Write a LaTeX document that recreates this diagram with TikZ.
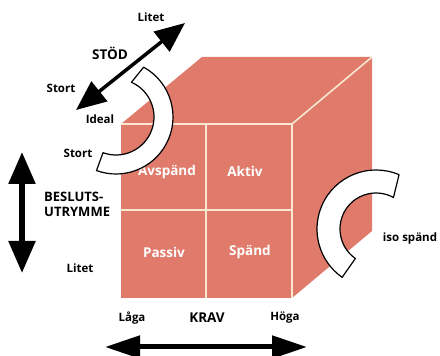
\documentclass[tikz,border=0pt]{standalone}
\usepackage{fontspec}
\setmainfont{Open Sans}
\usetikzlibrary{arrows.meta}
\definecolor{cubefill}{RGB}{224,123,108}
\definecolor{cubeline}{RGB}{248,232,208}
\tikzset{
  lbl/.style={font=\bfseries\fontsize{11.5}{12}\selectfont, text=black, inner sep=0pt},
  biglbl/.style={font=\bfseries\fontsize{13.5}{14}\selectfont, text=black, inner sep=0pt},
  cell/.style={font=\bfseries\fontsize{13.5}{14}\selectfont, text=white, inner sep=0pt},
  face/.style={fill=cubefill, draw=none},
  edge/.style={draw=cubeline, line width=1.6pt},
  band/.style={fill=white, draw=black, line width=1.2pt, line join=round},
  dblarrow/.style={draw=black, line width=#1},
}
\begin{document}
\begin{tikzpicture}[x=1pt,y=1pt]
\useasboundingbox (0,0) rectangle (440,356);

% cube corners
\coordinate (ftl) at (121,232);
\coordinate (ftr) at (292,232);
\coordinate (fbr) at (292,58);
\coordinate (fbl) at (121,58);
\coordinate (btl) at (202,299);
\coordinate (btr) at (372,299);
\coordinate (bbr) at (372,125);

% faces
\path[face] (ftl) -- (btl) -- (btr) -- (ftr) -- cycle;
\path[face] (ftr) -- (btr) -- (bbr) -- (fbr) -- cycle;
\path[face] (fbl) rectangle (ftr);

% edges and grid of the front face
\draw[edge] (ftl) -- (ftr) -- (fbr);
\draw[edge] (ftr) -- (btr);
\draw[edge] (206,232) -- (206,58);
\draw[edge] (121,146) -- (292,146);

% quadrant labels
\node[cell] (avspand) at (167,184) {Avspänd};
\node[cell] (aktiv) at (245,185) {Aktiv};
\node[cell] (passiv) at (164,104) {Passiv};
\node[cell] (spand) at (250,104) {Spänd};

% curved bands
\begin{scope}[shift={(116,239)}]
  \draw[band] (61:57) arc[start angle=61, end angle=-110, radius=57]
    -- (-110:38) arc[start angle=-110, end angle=66, radius=38] -- cycle;
\end{scope}
\begin{scope}[shift={(376,127)}]
  \draw[band] (67:59) arc[start angle=67, end angle=235, radius=59]
    -- (235:36) arc[start angle=235, end angle=61, radius=36] -- cycle;
\end{scope}

% support axis
\coordinate (stodA) at (76,246);
\coordinate (stodB) at (185,333);
\draw[dblarrow=3.5pt, {Triangle[length=30pt,width=25pt]}-{Triangle[length=30pt,width=25pt]}] (stodA) -- (stodB);

% decision latitude axis
\coordinate (besA) at (22,204);
\coordinate (besB) at (22,83);
\draw[dblarrow=5.5pt, {Triangle[length=32pt,width=26pt]}-{Triangle[length=32pt,width=26pt]}] (besA) -- (besB);

% demand axis
\coordinate (kravA) at (105,9);
\coordinate (kravB) at (307,9);
\draw[dblarrow=5pt, {Triangle[length=35pt,width=22pt]}-{Triangle[length=35pt,width=22pt]}] (kravA) -- (kravB);

% axis labels
\node[lbl] (litet1) at (151,339) {Litet};
\node[biglbl] (stod) at (110,303) {STÖD};
\node[lbl] (stort1) at (61,268) {Stort};
\node[lbl] (ideal) at (100,237) {Ideal};
\node[lbl] (stort2) at (78,203) {Stort};
\node[biglbl, anchor=west, align=left, font=\bfseries\fontsize{13}{15}\selectfont] (beslut) at (44,151.5) {BESLUTS-\\UTRYMME};
\node[lbl] (litet2) at (80,88) {Litet};
\node[lbl] (laga) at (132,38) {Låga};
\node[biglbl] (krav) at (207,38) {KRAV};
\node[lbl] (hoga) at (285,38) {Höga};
\node[lbl] (iso) at (410,117) {iso spänd};
\end{tikzpicture}
\end{document}
